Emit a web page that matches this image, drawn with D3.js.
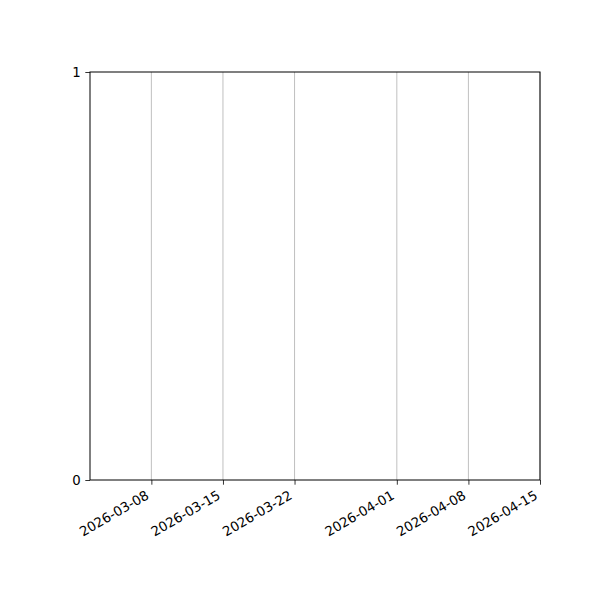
<!DOCTYPE html>
<html>
<head>
<meta charset="utf-8">
<script src="https://cdn.jsdelivr.net/npm/d3@7"></script>
<style>
  body { margin: 0; background: #fff; }
  text { font-family: "DejaVu Sans", sans-serif; }
</style>
</head>
<body>
<script>
// empty chart: only the axis ranges and tick labels
var xDomain = ["2026-03-02", "2026-04-15"];
var xTicks = ["2026-03-08", "2026-03-15", "2026-03-22", "2026-04-01", "2026-04-08", "2026-04-15"];
var yDomain = [0, 1];
var yTicks = [0, 1];

var width = 600, height = 600;
var margin = {top: 72, right: 60, bottom: 120, left: 90};
var parse = d3.utcParse("%Y-%m-%d");
var fmt = d3.utcFormat("%Y-%m-%d");

var svg = d3.select("body").append("svg")
    .attr("width", width)
    .attr("height", height);

var x = d3.scaleUtc()
    .domain(xDomain.map(parse))
    .range([margin.left, width - margin.right]);

var y = d3.scaleLinear()
    .domain(yDomain)
    .range([height - margin.bottom, margin.top]);

// vertical grid
svg.append("g")
    .selectAll("line")
    .data(xTicks.map(parse))
    .enter()
    .append("line")
    .attr("x1", function (d) { return x(d); })
    .attr("x2", function (d) { return x(d); })
    .attr("y1", margin.top)
    .attr("y2", height - margin.bottom)
    .attr("stroke", "#b0b0b0")
    .attr("stroke-width", 0.8);

var xAxis = svg.append("g")
    .attr("transform", "translate(0," + (height - margin.bottom) + ")")
    .call(d3.axisBottom(x).tickValues(xTicks.map(parse)).tickFormat(fmt).tickSize(4.7).tickSizeOuter(0));

xAxis.select(".domain").remove();
xAxis.selectAll(".tick line").attr("stroke", "#000").attr("stroke-width", 0.8);
xAxis.selectAll(".tick text")
    .attr("font-size", "13.3px")
    .attr("fill", "#000")
    .attr("text-anchor", "end")
    .attr("dy", null)
    .attr("y", 0)
    .attr("transform", "translate(-2,18) rotate(-30)");

var yAxis = svg.append("g")
    .attr("transform", "translate(" + margin.left + ",0)")
    .call(d3.axisLeft(y).tickValues(yTicks).tickFormat(d3.format("d")).tickSize(4.7).tickPadding(4.7).tickSizeOuter(0));

yAxis.select(".domain").remove();
yAxis.selectAll(".tick line").attr("stroke", "#000").attr("stroke-width", 0.8);
yAxis.selectAll(".tick text").attr("font-size", "13.3px").attr("fill", "#000");

// frame
svg.append("rect")
    .attr("x", margin.left)
    .attr("y", margin.top)
    .attr("width", width - margin.left - margin.right)
    .attr("height", height - margin.top - margin.bottom)
    .attr("fill", "none")
    .attr("stroke", "#000")
    .attr("stroke-width", 1);
</script>
</body>
</html>
